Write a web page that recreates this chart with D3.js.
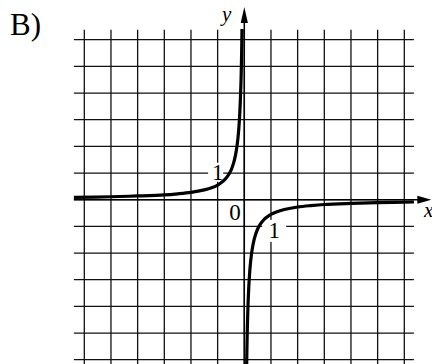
<!DOCTYPE html>
<html>
<head>
<meta charset="utf-8">
<script src="https://cdn.jsdelivr.net/npm/d3@7"></script>
<style>
  html, body { margin: 0; padding: 0; background: #fff; }
  svg { display: block; }
  text { font-family: "Liberation Serif", "Times New Roman", serif; fill: #000; }
</style>
</head>
<body>
<svg id="chart" width="432" height="364"></svg>
<script>
// grid lines, in units
const gridTicks = [-6, -5, -4, -3, -2, -1, 0, 1, 2, 3, 4, 5, 6];

// left branch (second quadrant)
const leftX = [-6.39, -5, -4, -3, -2.5, -2, -1.5, -1.2, -1, -0.8, -0.7, -0.6, -0.5, -0.4, -0.33, -0.27, -0.22, -0.18, -0.15, -0.12, -0.1, -0.086];
const leftY = [0.086, 0.11, 0.14, 0.18, 0.22, 0.275, 0.37, 0.46, 0.55, 0.69, 0.79, 0.92, 1.1, 1.38, 1.67, 2.04, 2.5, 3.06, 3.67, 4.58, 5.5, 6.4];

// right branch (fourth quadrant)
const rightX = [0.083, 0.1, 0.12, 0.15, 0.18, 0.22, 0.27, 0.33, 0.4, 0.5, 0.6, 0.7, 0.8, 1, 1.2, 1.5, 2, 2.5, 3, 4, 5, 6.36];
const rightY = [-6.6, -5.5, -4.58, -3.67, -3.06, -2.5, -2.04, -1.67, -1.38, -1.1, -0.92, -0.79, -0.69, -0.55, -0.46, -0.37, -0.275, -0.22, -0.18, -0.14, -0.11, -0.086];

const svg = d3.select("#chart");

const x = d3.scaleLinear().domain([-6, 6]).range([84.3, 404.3]);
const y = d3.scaleLinear().domain([-6, 6]).range([359.7, 39.7]);

// grid extents
const gx0 = x(-6.39), gx1 = x(6.36);
const gyTop = y(6.37), gyBot = 366;

// option letter
svg.append("text")
  .attr("x", 10).attr("y", 35)
  .style("font-size", "31px")
  .text("В)");

// grid
const grid = svg.append("g").attr("stroke", "#111").attr("stroke-width", 1.3);
grid.selectAll(".v").data(gridTicks).join("line")
  .attr("x1", d => x(d)).attr("x2", d => x(d))
  .attr("y1", gyTop).attr("y2", gyBot);
grid.selectAll(".h").data(gridTicks).join("line")
  .attr("x1", gx0).attr("x2", gx1)
  .attr("y1", d => y(d)).attr("y2", d => y(d));

// white patches behind the unit labels
const labels = [
  { t: "1", x: -1.0, y: 1.03, w: 15, h: 19, dx: -2 },
  { t: "0", x: -0.35, y: -0.48, w: 14, h: 18, dx: 0 },
  { t: "1", x: 1.12, y: -1.17, w: 24, h: 22, dx: 0 }
];
svg.selectAll(".bg").data(labels).join("rect")
  .attr("x", d => x(d.x) + d.dx - d.w / 2)
  .attr("y", d => y(d.y) - d.h / 2)
  .attr("width", d => d.w).attr("height", d => d.h)
  .attr("fill", "#fff");

// axes
svg.append("line")
  .attr("x1", gx0).attr("x2", 419)
  .attr("y1", y(0)).attr("y2", y(0))
  .attr("stroke", "#000").attr("stroke-width", 1.5);
svg.append("line")
  .attr("x1", x(0)).attr("x2", x(0))
  .attr("y1", 20).attr("y2", gyBot)
  .attr("stroke", "#000").attr("stroke-width", 1.5);

svg.append("path")
  .attr("d", `M${x(0) + 187},${y(0)} l-14,-4 l0,8 z`)
  .attr("fill", "#000");
svg.append("path")
  .attr("d", `M${x(0)},7 l-3.6,16 l7.2,0 z`)
  .attr("fill", "#000");

// hyperbola
const line = d3.line()
  .x(d => x(d[0]))
  .y(d => y(d[1]))
  .curve(d3.curveCatmullRom.alpha(0.5));

const branches = [
  leftX.map((v, i) => [v, leftY[i]]),
  rightX.map((v, i) => [v, rightY[i]])
];
svg.selectAll(".branch").data(branches).join("path")
  .attr("d", line)
  .attr("fill", "none")
  .attr("stroke", "#000")
  .attr("stroke-width", 3.2);

// unit labels
svg.selectAll(".lbl").data(labels).join("text")
  .attr("x", d => x(d.x))
  .attr("y", d => y(d.y))
  .attr("dy", "0.33em")
  .attr("text-anchor", "middle")
  .style("font-size", "23px")
  .text(d => d.t);

// axis names
svg.append("text")
  .attr("x", 222).attr("y", 21)
  .style("font-size", "21px").style("font-style", "italic")
  .text("y");
svg.append("text")
  .attr("x", 424).attr("y", 217)
  .style("font-size", "21px").style("font-style", "italic")
  .text("x");
</script>
</body>
</html>
